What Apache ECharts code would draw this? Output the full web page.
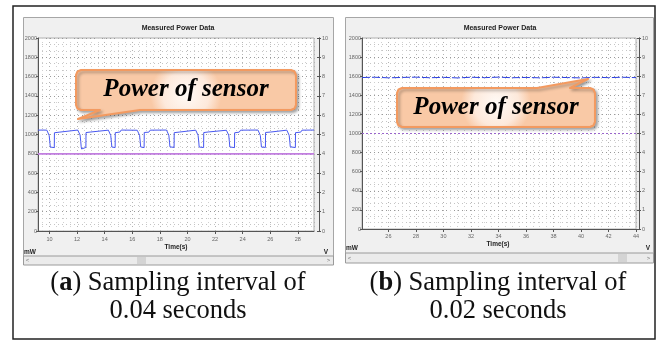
<!DOCTYPE html>
<html><head><meta charset="utf-8">
<script src="https://cdn.jsdelivr.net/npm/echarts@6/dist/echarts.min.js"></script>
<style>html,body{margin:0;padding:0;background:#fff}#c{width:659px;height:341px}</style>
</head><body><div id="c"></div>
<script>
// ---------- data ----------
const chartTitle = 'Measured Power Data';
const xName = 'Time(s)';
const leftUnit = 'mW';
const rightUnit = 'V';
const calloutText = 'Power of sensor';
const captionA = ['a', ') Sampling interval of', '0.04 seconds'];
const captionB = ['b', ') Sampling interval of', '0.02 seconds'];
const rangeA = [9.17, 29.17];
const rangeB = [24.08, 44];
const powerRange = [0, 2000];
const voltRange = [0, 10];

// panel (a): sensor power, mW
const powerA = [
  [9.17,1045],[9.5,1046],
  [9.81,1045],[9.9,1032],[9.98,990],[10.03,920],[10.06,870],[10.09,852],[10.12,866],[10.35,864],[10.36,1018],[10.7,1024],[10.8,1044],
  [12.05,1046],[12.14,1034],[12.22,995],[12.27,925],[12.3,872],[12.33,850],[12.36,865],[12.64,866],[12.65,1020],[13.0,1026],[13.1,1045],
  [14.27,1045],[14.36,1033],[14.44,990],[14.49,920],[14.52,870],[14.55,853],[14.58,864],[14.76,865],[14.77,1019],[15.1,1025],[15.2,1046],
  [16.36,1044],[16.45,1031],[16.53,992],[16.58,922],[16.61,871],[16.64,851],[16.67,866],[16.86,864],[16.87,1021],[17.2,1024],[17.3,1045],
  [18.48,1046],[18.57,1033],[18.65,993],[18.7,921],[18.73,872],[18.76,852],[18.79,865],[19.03,866],[19.04,1019],[19.4,1025],[19.5,1044],
  [20.6,1045],[20.69,1034],[20.77,991],[20.82,923],[20.85,870],[20.88,851],[20.91,864],[21.17,865],[21.18,1020],[21.5,1026],[21.6,1046],
  [22.82,1044],[22.91,1032],[22.99,994],[23.04,924],[23.07,871],[23.1,853],[23.13,866],[23.41,864],[23.42,1018],[23.75,1024],[23.85,1045],
  [25.11,1046],[25.2,1033],[25.28,990],[25.33,920],[25.36,870],[25.39,850],[25.42,865],[25.65,866],[25.66,1021],[26.0,1025],[26.1,1044],
  [27.2,1045],[27.29,1032],[27.37,992],[27.42,922],[27.45,872],[27.48,852],[27.51,864],[27.82,865],[27.83,1019],[28.2,1024],[28.3,1045],
  [29.17,1046]
];
// panel (a): voltage, V
const voltA = [[9.17,4.0],[29.17,4.0]];
// panel (b): sensor power, mW
const powerB = [[24.08,1586],[25,1589],[26,1583],[27,1587],[28,1590],[29,1584],[30,1588],[31,1582],[32,1589],[33,1585],[34,1590],[35,1584],[36,1587],[37,1583],[38,1589],[39,1586],[40,1582],[41,1588],[42,1585],[43,1589],[44,1585]];
// panel (b): voltage, V
const voltB = [[24.08,5.0],[44,5.0]];

// ---------- chart ----------
const SANS = 'Liberation Sans';
const SERIF = 'Liberation Serif';
const AX = '#555';
const plain = v => String(v);

function leftY(g){
  return {gridIndex:g,type:'value',min:powerRange[0],max:powerRange[1],interval:200,position:'left',
    axisLine:{show:true,lineStyle:{color:AX,width:1}},
    axisTick:{show:true,length:2,lineStyle:{color:AX}},
    axisLabel:{fontSize:5.5,color:'#666',margin:1,fontFamily:SANS,formatter:plain},
    splitLine:{show:true,lineStyle:{color:'#999',type:[1,3],width:1}},
    minorTick:{show:false,splitNumber:3},
    minorSplitLine:{show:true,lineStyle:{color:'#c4c4c4',type:[1,3],width:1}}};
}
function rightY(g,off,inner){
  return {gridIndex:g,type:'value',min:voltRange[0],max:voltRange[1],interval:1,position:'right',offset:off,
    axisLine:{show:true,lineStyle:{color:AX,width:1}},
    axisTick:{show:true,inside:inner,length:2,lineStyle:{color:AX}},
    axisLabel:{show:!inner,fontSize:5.5,color:'#666',margin:3,fontFamily:SANS,formatter:plain},
    splitLine:{show:false}};
}
function xAx(g,r,m,showMax){
  return {gridIndex:g,type:'value',min:r[0],max:r[1],splitNumber:10,
    axisLine:{show:true,onZero:false,lineStyle:{color:AX,width:1}},
    axisTick:{show:true,length:3,lineStyle:{color:AX}},
    axisLabel:{fontSize:5.5,color:'#666',margin:m,fontFamily:SANS,showMinLabel:false,showMaxLabel:showMax,formatter:plain},
    splitLine:{show:true,lineStyle:{color:'#b4b4b4',type:[1,3],width:1}},
    minorTick:{show:false,splitNumber:4},
    minorSplitLine:{show:true,lineStyle:{color:'#d0d0d0',type:[1,3],width:1}}};
}

function txt(x,y,t,size,opt){
  return {type:'text',z:50,style:Object.assign({x:x,y:y,text:t,fontSize:size,fontFamily:SANS,fill:'#222',align:'center',verticalAlign:'middle'},opt||{})};
}
const CAP = 26.5;
function caption(cx,y1,y2,c){
  return [
    {type:'text',z:60,style:{x:cx,y:y1,align:'center',verticalAlign:'middle',
      text:'{n|(}{b|'+c[0]+'}{n|'+c[1]+'}',
      fontFamily:SERIF,fontSize:CAP,fill:'#111',
      rich:{n:{fontFamily:SERIF,fontSize:CAP,fill:'#111'},b:{fontFamily:SERIF,fontSize:CAP,fontWeight:'bold',fill:'#111'}}}},
    {type:'text',z:60,style:{x:cx,y:y2,align:'center',verticalAlign:'middle',text:c[2],fontFamily:SERIF,fontSize:CAP,fill:'#111'}}
  ];
}
function callout(pts,tx,ty){
  return [
    {type:'polygon',z:80,shape:{points:pts},
      style:{fill:{type:'radial',x:0.5,y:0.5,r:0.7,colorStops:[{offset:0,color:'#fffaf6'},{offset:0.65,color:'#fde9db'},{offset:1,color:'#f9c9a6'}]},
        stroke:'#f39a60',lineWidth:2,lineJoin:'round',shadowBlur:3,shadowOffsetX:2,shadowOffsetY:2,shadowColor:'rgba(0,0,0,0.3)'}},
    {type:'text',z:90,style:{x:tx,y:ty,text:calloutText,align:'center',verticalAlign:'middle',
      fontFamily:SERIF,fontSize:25,fontWeight:'bold',fontStyle:'italic',fill:'#000'}}
  ];
}
function scroll(x,y,w,h,thumbX){
  return [
    {type:'rect',z:-5,shape:{x:x,y:y,width:w,height:h},style:{fill:'#ebebeb',stroke:'#9a9a9a',lineWidth:1}},
    {type:'rect',z:-4,shape:{x:thumbX,y:y+1,width:9,height:h-2},style:{fill:'#d4d4d4'}},
    txt(x+4,y+h/2,'<',6,{fill:'#777'}),
    txt(x+w-5,y+h/2,'>',6,{fill:'#777'})
  ];
}

const calloutAPts = [[81,70],[291,70],[294.5,71.5],[296,75],[296,105],[294.5,108.5],[291,110],[140,110],[78,119],[100,110],[81,110],[77.5,108.5],[76,105],[76,75],[77.5,71.5]];
const calloutBPts = [[402,88],[537,88],[588,79],[570,88],[590,88],[593.5,89.5],[595,93],[595,122],[593.5,125.5],[590,127],[402,127],[398.5,125.5],[397,122],[397,93],[398.5,89.5]];

const graphics = [].concat(
  [{type:'rect',z:-10,shape:{x:23.5,y:17.5,width:310,height:247},style:{fill:'#f0f0f0',stroke:'#a6a6a6',lineWidth:1}},
   {type:'rect',z:-10,shape:{x:345.5,y:17.5,width:308,height:245},style:{fill:'#f0f0f0',stroke:'#a6a6a6',lineWidth:1}}],
  scroll(23.5,256,310,9,137),
  scroll(345.5,253,308,10,618),
  [txt(178,28,chartTitle,7,{fontWeight:'bold'}),
   txt(500,28,chartTitle,7,{fontWeight:'bold'}),
   txt(176,247,xName,6.5,{fontWeight:'bold'}),
   txt(498,244,xName,6.5,{fontWeight:'bold'}),
   txt(24,252,leftUnit,6.5,{fontWeight:'bold',align:'left'}),
   txt(346,248,leftUnit,6.5,{fontWeight:'bold',align:'left'}),
   txt(326,252,rightUnit,6.5,{fontWeight:'bold'}),
   txt(648,248,rightUnit,6.5,{fontWeight:'bold'})],
  callout(calloutAPts,186,90),
  callout(calloutBPts,496,108),
  caption(178,283,311,captionA),
  caption(498,283,311,captionB),
  [{type:'rect',z:200,shape:{x:13,y:6,width:642,height:333},style:{fill:'none',stroke:'#222',lineWidth:1.5}}]
);

const chart = echarts.init(document.getElementById('c'),null,{renderer:'canvas'});
chart.setOption({
  animation:false,
  backgroundColor:'#ffffff',
  grid:[
    {left:38,top:38,width:276,height:193,show:true,backgroundColor:'#fff',borderColor:'#b0b0b0',borderWidth:1},
    {left:362,top:38,width:274,height:191,show:true,backgroundColor:'#fff',borderColor:'#b0b0b0',borderWidth:1}
  ],
  xAxis:[xAx(0,rangeA,5,false),xAx(1,rangeB,4,true)],
  yAxis:[leftY(0),rightY(0,5,false),rightY(0,5,true),leftY(1),rightY(1,3,false),rightY(1,3,true)],
  series:[
    {type:'line',xAxisIndex:0,yAxisIndex:0,data:powerA,showSymbol:false,lineStyle:{color:'#4858f0',width:1},z:5},
    {type:'line',xAxisIndex:0,yAxisIndex:1,data:voltA,showSymbol:false,lineStyle:{color:'#c27ee0',width:1.8},z:4},
    {type:'line',xAxisIndex:1,yAxisIndex:3,data:powerB,showSymbol:false,lineStyle:{color:'#2b3fe0',width:1,type:[8,2]},z:5},
    {type:'line',xAxisIndex:1,yAxisIndex:4,data:voltB,showSymbol:false,lineStyle:{color:'#9a66cc',width:1,type:[2,2]},z:4}
  ],
  graphic:graphics
});
</script></body></html>
